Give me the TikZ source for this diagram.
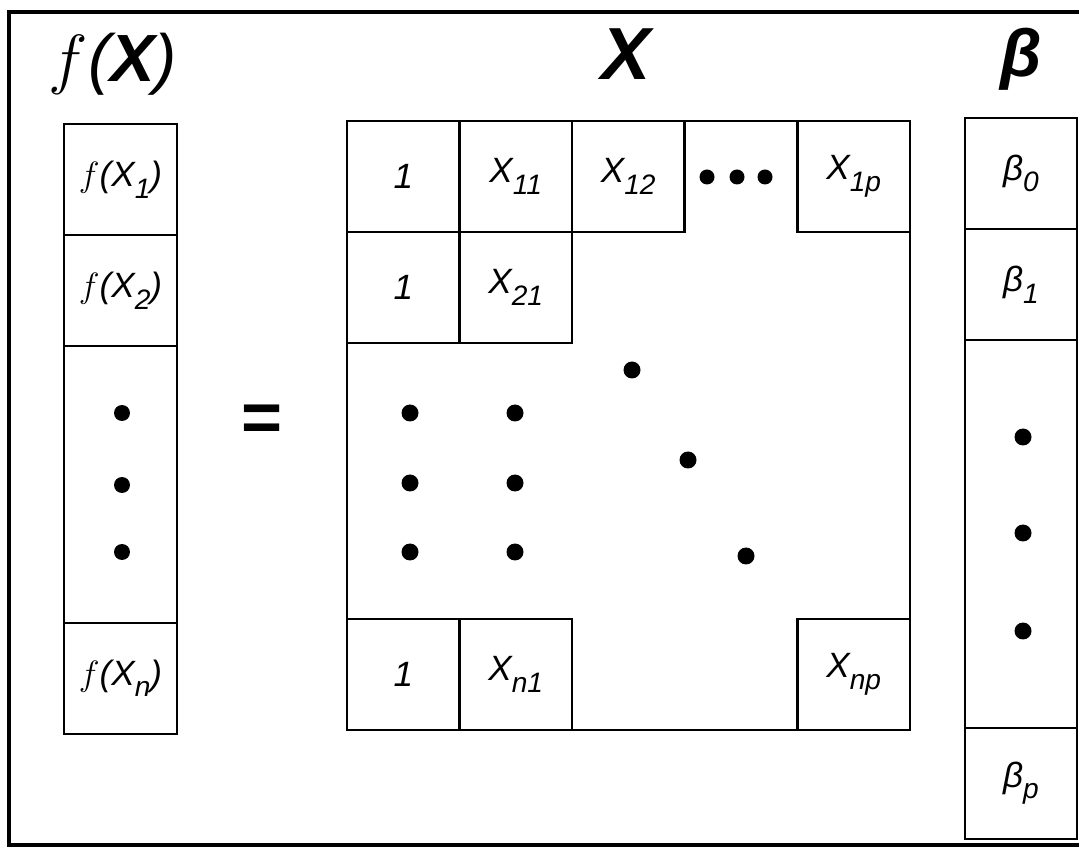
\RequirePackage{fix-cm}
\documentclass[tikz,border=0pt]{standalone}
\usepackage{fontspec}
\setmainfont{Liberation Sans}
\usetikzlibrary{positioning}
\newcommand{\sbs}[1]{\raisebox{-0.33em}{\fontsize{16}{16}\selectfont #1}}
\newcommand{\fn}{$f$}
\tikzset{
  cell/.style={rectangle, draw, line width=1.3pt, minimum width=22.5mm, minimum height=22.2mm,
    inner sep=0pt, outer sep=0pt, font=\fontsize{20}{24}\selectfont\itshape},
  mat/.style={rectangle, draw, line width=1.3pt, minimum width=112.6mm, minimum height=121.8mm,
    inner sep=0pt, outer sep=0pt},
  ttl/.style={font=\fontsize{42}{46}\selectfont\itshape, anchor=base, inner sep=0pt},
  eqs/.style={font=\fontsize{40}{40}\selectfont\bfseries, inner sep=0pt},
  frame/.style={line width=2.3pt}
}

\begin{document}
\begin{tikzpicture}[x=0.02cm, y=-0.02cm]
  \useasboundingbox (0,0) rectangle (1079,847);
  \draw[frame] (1079,12) -| (9,845) -- (1079,845);

  % titles
  \node[ttl, font=\fontsize{38}{42}\selectfont\itshape] (tf) at (113,82) {\fn(\textbf{X})};
  \node[ttl] (tx) at (626,80) {\textbf{X}};
  \node[ttl, font=\fontsize{38}{42}\selectfont\bfseries\itshape] (tb) at (1021,77) {β};

  % f(X) column
  \node[cell] (f1) at (120.5,179.5) {\fn(X\sbs{1})};
  \node[cell, below=0pt of f1] (f2) {\fn(X\sbs{2})};
  \node[cell, below=0pt of f2, minimum height=55.4mm] (fdots) {};
  \node[cell, below=0pt of fdots] (fn) {\fn(X\sbs{n})};

  \node[eqs] (eq) at (262,423) {=};

  % X matrix
  \node[mat] (xm) at (628.5,425.5) {};
  \node[cell, anchor=north west] (x11) at (xm.north west) {1};
  \node[cell, right=0pt of x11] (x12) {X\sbs{11}};
  \node[cell, right=0pt of x12] (x13) {X\sbs{12}};
  \node[cell, anchor=north east] (x1p) at (xm.north east) {X\sbs{1p}};
  \node[cell, below=0pt of x11] (x21) {1};
  \node[cell, right=0pt of x21] (x22) {X\sbs{21}};
  \node[cell, anchor=south west] (xn1) at (xm.south west) {1};
  \node[cell, right=0pt of xn1] (xn2) {X\sbs{n1}};
  \node[cell, anchor=south east] (xnp) at (xm.south east) {X\sbs{np}};

  % beta column
  \node[cell] (b0) at (1021,173.5) {β\sbs{0}};
  \node[cell, below=0pt of b0] (b1) {β\sbs{1}};
  \node[cell, below=0pt of b1, minimum height=77.6mm] (bdots) {};
  \node[cell, below=0pt of bdots] (bp) {β\sbs{p}};

  % dots
  \foreach \y in {413,485,552} \fill (122,\y) circle[radius=1.6mm];
  \foreach \x in {707,737,765} \fill (\x,177) circle[radius=1.5mm];
  \foreach \x in {410,515} \foreach \y in {413,483,552} \fill (\x,\y) circle[radius=1.7mm];
  \foreach \x/\y in {632/370,688/460,746/556} \fill (\x,\y) circle[radius=1.7mm];
  \foreach \y in {437,533,631} \fill (1023,\y) circle[radius=1.7mm];
\end{tikzpicture}
\end{document}
